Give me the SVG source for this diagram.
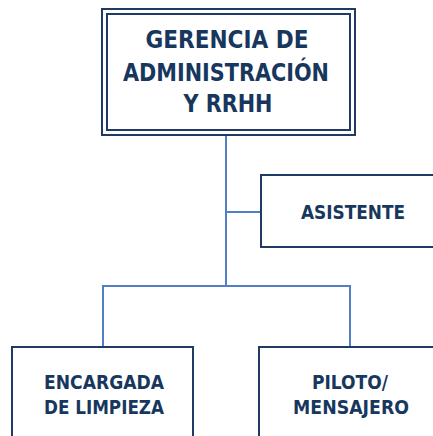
<svg xmlns="http://www.w3.org/2000/svg" width="433" height="436" viewBox="0 0 433 436">
<style>
.box{fill:#fff;stroke:#1f3b63;stroke-width:2}
.conn{fill:none;stroke:#4f7fc6;stroke-width:2}
.t{font-family:"DejaVu Sans Condensed","DejaVu Sans",sans-serif;font-weight:bold;fill:#17375e;text-anchor:middle}
.big{font-size:24px}
.sm{font-size:20px}
</style>
<rect width="433" height="436" fill="#fff"/>
<g id="connectors">
<path class="conn" d="M226,135 V286"/>
<path class="conn" d="M226,212 H261"/>
<path class="conn" d="M103,347 V286 H350 V347"/>
</g>
<g id="gerencia">
<rect class="box" x="102" y="9" width="253" height="126"/>
<rect class="box" x="107" y="14" width="243" height="116"/>
<text class="t big" x="227" y="48" textLength="163" lengthAdjust="spacingAndGlyphs">GERENCIA DE</text>
<text class="t big" x="226" y="81" textLength="206" lengthAdjust="spacingAndGlyphs">ADMINISTRACIÓN</text>
<text class="t big" x="228" y="112" textLength="89" lengthAdjust="spacingAndGlyphs">Y RRHH</text>
</g>
<g id="asistente">
<rect class="box" x="261" y="175" width="184" height="72"/>
<text class="t sm" x="353" y="219" textLength="104" lengthAdjust="spacingAndGlyphs">ASISTENTE</text>
</g>
<g id="encargada">
<rect class="box" x="12" y="347" width="181" height="100"/>
<text class="t sm" x="104" y="389" textLength="120" lengthAdjust="spacingAndGlyphs">ENCARGADA</text>
<text class="t sm" x="104" y="414" textLength="120" lengthAdjust="spacingAndGlyphs">DE LIMPIEZA</text>
</g>
<g id="piloto">
<rect class="box" x="259" y="347" width="184" height="100"/>
<text class="t sm" x="350" y="389" textLength="76" lengthAdjust="spacingAndGlyphs">PILOTO/</text>
<text class="t sm" x="351" y="414" textLength="116" lengthAdjust="spacingAndGlyphs">MENSAJERO</text>
</g>
</svg>
